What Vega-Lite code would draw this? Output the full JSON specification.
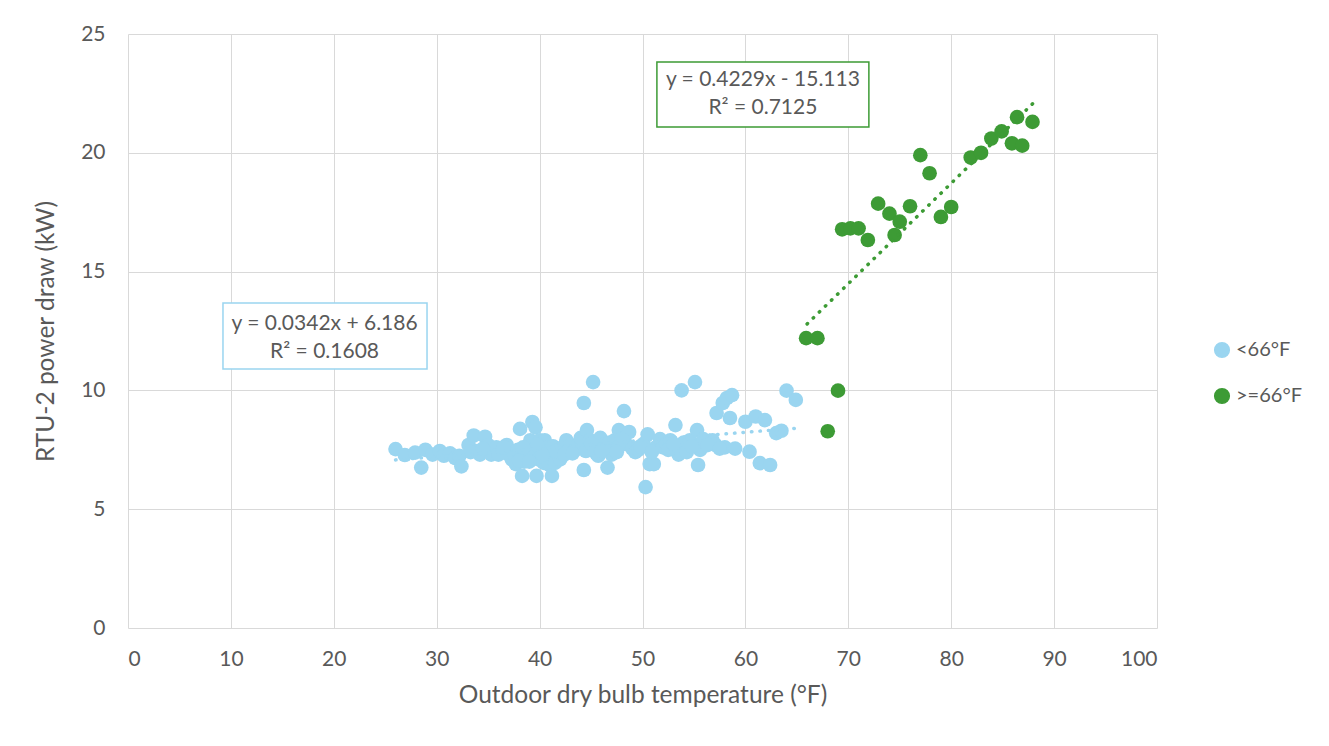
{
  "$schema": "https://vega.github.io/schema/vega-lite/v6.json",
  "autosize": "none",
  "width": 1029,
  "height": 594,
  "padding": {"left": 128, "top": 34, "right": 172, "bottom": 118},
  "background": "white",
  "config": {
    "font": "Lato",
    "view": {"stroke": null},
    "axis": {
      "gridColor": "#d9d9d9", "gridWidth": 1, "domain": false, "ticks": false,
      "labelColor": "#595959", "labelFontSize": 21, "titleColor": "#595959",
      "titleFontSize": 24.5, "titleFontWeight": "normal", "labelFont": "Lato", "titleFont": "Lato"
    },
    "legend": {"labelColor": "#595959", "labelFontSize": 20, "labelFont": "Lato"}
  },
  "datasets": {
    "pts": [
      {"t":26.0,"kw":7.53,"g":"<66°F"},{"t":26.9,"kw":7.28,"g":"<66°F"},{"t":27.9,"kw":7.38,"g":"<66°F"},{"t":28.5,"kw":6.75,"g":"<66°F"},
      {"t":28.9,"kw":7.5,"g":"<66°F"},{"t":29.6,"kw":7.3,"g":"<66°F"},{"t":30.3,"kw":7.45,"g":"<66°F"},{"t":30.7,"kw":7.25,"g":"<66°F"},
      {"t":31.3,"kw":7.35,"g":"<66°F"},{"t":31.8,"kw":7.15,"g":"<66°F"},{"t":32.2,"kw":7.25,"g":"<66°F"},{"t":32.4,"kw":6.8,"g":"<66°F"},
      {"t":33.1,"kw":7.7,"g":"<66°F"},{"t":33.6,"kw":8.1,"g":"<66°F"},{"t":33.8,"kw":7.45,"g":"<66°F"},{"t":34.2,"kw":7.3,"g":"<66°F"},
      {"t":34.7,"kw":8.05,"g":"<66°F"},{"t":35.0,"kw":7.7,"g":"<66°F"},{"t":35.3,"kw":7.3,"g":"<66°F"},{"t":35.8,"kw":7.6,"g":"<66°F"},
      {"t":36.3,"kw":7.45,"g":"<66°F"},{"t":36.8,"kw":7.7,"g":"<66°F"},{"t":37.0,"kw":7.3,"g":"<66°F"},{"t":37.3,"kw":7.1,"g":"<66°F"},
      {"t":37.6,"kw":7.25,"g":"<66°F"},{"t":37.7,"kw":6.9,"g":"<66°F"},{"t":37.9,"kw":7.5,"g":"<66°F"},{"t":38.1,"kw":8.38,"g":"<66°F"},
      {"t":38.3,"kw":6.4,"g":"<66°F"},{"t":38.5,"kw":7.0,"g":"<66°F"},{"t":38.7,"kw":7.2,"g":"<66°F"},{"t":38.9,"kw":7.45,"g":"<66°F"},
      {"t":39.1,"kw":7.9,"g":"<66°F"},{"t":39.3,"kw":8.67,"g":"<66°F"},{"t":39.5,"kw":7.3,"g":"<66°F"},{"t":39.6,"kw":8.45,"g":"<66°F"},
      {"t":39.7,"kw":6.4,"g":"<66°F"},{"t":39.9,"kw":7.1,"g":"<66°F"},{"t":40.0,"kw":7.9,"g":"<66°F"},{"t":40.2,"kw":7.5,"g":"<66°F"},
      {"t":40.4,"kw":6.95,"g":"<66°F"},{"t":40.5,"kw":7.9,"g":"<66°F"},{"t":40.7,"kw":7.1,"g":"<66°F"},{"t":40.8,"kw":7.6,"g":"<66°F"},
      {"t":41.0,"kw":6.85,"g":"<66°F"},{"t":41.2,"kw":6.4,"g":"<66°F"},{"t":41.3,"kw":7.65,"g":"<66°F"},{"t":41.5,"kw":6.95,"g":"<66°F"},
      {"t":41.8,"kw":7.3,"g":"<66°F"},{"t":42.0,"kw":7.1,"g":"<66°F"},{"t":42.2,"kw":7.6,"g":"<66°F"},{"t":42.6,"kw":7.9,"g":"<66°F"},
      {"t":42.8,"kw":7.45,"g":"<66°F"},{"t":43.0,"kw":7.7,"g":"<66°F"},{"t":43.5,"kw":7.5,"g":"<66°F"},{"t":43.8,"kw":7.75,"g":"<66°F"},
      {"t":44.0,"kw":8.0,"g":"<66°F"},{"t":44.3,"kw":9.47,"g":"<66°F"},{"t":44.3,"kw":6.65,"g":"<66°F"},{"t":44.6,"kw":8.33,"g":"<66°F"},
      {"t":44.9,"kw":7.9,"g":"<66°F"},{"t":45.2,"kw":10.35,"g":"<66°F"},{"t":45.3,"kw":7.6,"g":"<66°F"},{"t":45.5,"kw":7.35,"g":"<66°F"},
      {"t":45.7,"kw":7.25,"g":"<66°F"},{"t":45.9,"kw":8.0,"g":"<66°F"},{"t":46.1,"kw":7.7,"g":"<66°F"},{"t":46.3,"kw":7.5,"g":"<66°F"},
      {"t":46.6,"kw":6.75,"g":"<66°F"},{"t":46.8,"kw":7.8,"g":"<66°F"},{"t":47.0,"kw":7.3,"g":"<66°F"},{"t":47.3,"kw":7.9,"g":"<66°F"},
      {"t":47.6,"kw":7.6,"g":"<66°F"},{"t":47.7,"kw":8.33,"g":"<66°F"},{"t":47.9,"kw":7.7,"g":"<66°F"},{"t":48.2,"kw":9.13,"g":"<66°F"},
      {"t":48.4,"kw":7.75,"g":"<66°F"},{"t":48.7,"kw":8.25,"g":"<66°F"},{"t":49.0,"kw":7.55,"g":"<66°F"},{"t":49.3,"kw":7.4,"g":"<66°F"},
      {"t":49.6,"kw":7.5,"g":"<66°F"},{"t":50.1,"kw":7.75,"g":"<66°F"},{"t":50.3,"kw":5.93,"g":"<66°F"},{"t":50.5,"kw":8.15,"g":"<66°F"},
      {"t":50.7,"kw":6.9,"g":"<66°F"},{"t":51.1,"kw":6.9,"g":"<66°F"},{"t":51.3,"kw":7.6,"g":"<66°F"},{"t":51.7,"kw":7.95,"g":"<66°F"},
      {"t":52.0,"kw":7.6,"g":"<66°F"},{"t":52.3,"kw":7.75,"g":"<66°F"},{"t":52.7,"kw":7.9,"g":"<66°F"},{"t":53.2,"kw":8.54,"g":"<66°F"},
      {"t":53.5,"kw":7.3,"g":"<66°F"},{"t":53.8,"kw":10.0,"g":"<66°F"},{"t":54.0,"kw":7.8,"g":"<66°F"},{"t":54.3,"kw":7.4,"g":"<66°F"},
      {"t":54.6,"kw":7.9,"g":"<66°F"},{"t":55.1,"kw":10.35,"g":"<66°F"},{"t":55.3,"kw":8.33,"g":"<66°F"},{"t":55.4,"kw":6.86,"g":"<66°F"},
      {"t":55.6,"kw":7.5,"g":"<66°F"},{"t":55.9,"kw":7.95,"g":"<66°F"},{"t":56.8,"kw":7.9,"g":"<66°F"},{"t":57.1,"kw":7.7,"g":"<66°F"},
      {"t":57.2,"kw":9.05,"g":"<66°F"},{"t":57.8,"kw":9.47,"g":"<66°F"},{"t":58.0,"kw":7.6,"g":"<66°F"},{"t":58.2,"kw":9.68,"g":"<66°F"},
      {"t":58.5,"kw":8.84,"g":"<66°F"},{"t":58.7,"kw":9.8,"g":"<66°F"},{"t":59.0,"kw":7.55,"g":"<66°F"},{"t":60.0,"kw":8.68,"g":"<66°F"},
      {"t":60.4,"kw":7.42,"g":"<66°F"},{"t":61.0,"kw":8.9,"g":"<66°F"},{"t":61.4,"kw":6.94,"g":"<66°F"},{"t":61.9,"kw":8.75,"g":"<66°F"},
      {"t":62.4,"kw":6.86,"g":"<66°F"},{"t":63.0,"kw":8.2,"g":"<66°F"},{"t":63.5,"kw":8.3,"g":"<66°F"},{"t":64.0,"kw":9.99,"g":"<66°F"},
      {"t":64.9,"kw":9.6,"g":"<66°F"},
      {"t":33.3,"kw":7.4,"g":"<66°F"},{"t":34.5,"kw":7.55,"g":"<66°F"},{"t":36.0,"kw":7.3,"g":"<66°F"},{"t":36.5,"kw":7.6,"g":"<66°F"},
      {"t":38.0,"kw":7.05,"g":"<66°F"},{"t":38.4,"kw":7.6,"g":"<66°F"},{"t":39.0,"kw":7.0,"g":"<66°F"},{"t":39.8,"kw":7.7,"g":"<66°F"},
      {"t":40.3,"kw":7.3,"g":"<66°F"},{"t":41.6,"kw":7.45,"g":"<66°F"},{"t":42.4,"kw":7.3,"g":"<66°F"},{"t":43.2,"kw":7.35,"g":"<66°F"},
      {"t":44.5,"kw":7.45,"g":"<66°F"},{"t":45.0,"kw":7.75,"g":"<66°F"},{"t":46.0,"kw":7.45,"g":"<66°F"},{"t":47.5,"kw":7.4,"g":"<66°F"},
      {"t":48.0,"kw":7.95,"g":"<66°F"},{"t":49.8,"kw":7.65,"g":"<66°F"},{"t":50.9,"kw":7.4,"g":"<66°F"},{"t":52.5,"kw":7.5,"g":"<66°F"},
      {"t":53.0,"kw":7.75,"g":"<66°F"},{"t":54.8,"kw":7.65,"g":"<66°F"},{"t":56.3,"kw":7.7,"g":"<66°F"},{"t":57.5,"kw":7.55,"g":"<66°F"},
      {"t":65.9,"kw":12.2,"g":">=66°F"},{"t":67.0,"kw":12.2,"g":">=66°F"},{"t":69.0,"kw":9.99,"g":">=66°F"},{"t":68.0,"kw":8.28,"g":">=66°F"},
      {"t":69.4,"kw":16.78,"g":">=66°F"},{"t":70.2,"kw":16.82,"g":">=66°F"},{"t":71.0,"kw":16.82,"g":">=66°F"},{"t":71.9,"kw":16.33,"g":">=66°F"},
      {"t":72.9,"kw":17.86,"g":">=66°F"},{"t":74.0,"kw":17.44,"g":">=66°F"},{"t":75.0,"kw":17.1,"g":">=66°F"},{"t":74.5,"kw":16.54,"g":">=66°F"},
      {"t":76.0,"kw":17.75,"g":">=66°F"},{"t":77.0,"kw":19.9,"g":">=66°F"},{"t":77.9,"kw":19.14,"g":">=66°F"},{"t":79.0,"kw":17.3,"g":">=66°F"},
      {"t":80.0,"kw":17.72,"g":">=66°F"},{"t":81.9,"kw":19.8,"g":">=66°F"},{"t":82.9,"kw":20.0,"g":">=66°F"},{"t":83.9,"kw":20.6,"g":">=66°F"},
      {"t":84.9,"kw":20.9,"g":">=66°F"},{"t":85.9,"kw":20.4,"g":">=66°F"},{"t":86.9,"kw":20.3,"g":">=66°F"},{"t":86.4,"kw":21.5,"g":">=66°F"},
      {"t":87.9,"kw":21.3,"g":">=66°F"}
    ],
    "trend": [
      {"t":26.0,"kw":7.075,"g":"<66°F"},{"t":65.0,"kw":8.409,"g":"<66°F"},
      {"t":66.0,"kw":12.798,"g":">=66°F"},{"t":88.0,"kw":22.102,"g":">=66°F"}
    ],
    "one": [{}]
  },
  "layer": [
    {
      "data": {"name": "pts"},
      "mark": {"type": "circle", "size": 215, "opacity": 1},
      "encoding": {
        "x": {"field": "t", "type": "quantitative", "scale": {"domain": [0, 100], "nice": false},
              "axis": {"values": [0,10,20,30,40,50,60,70,80,90,100], "title": "Outdoor dry bulb temperature (°F)", "labelPadding": 20, "titlePadding": 14}},
        "y": {"field": "kw", "type": "quantitative", "scale": {"domain": [0, 25], "nice": false},
              "axis": {"values": [0,5,10,15,20,25], "title": "RTU-2 power draw (kW)", "labelPadding": 23, "titlePadding": 22}},
        "color": {"field": "g", "type": "nominal", "sort": ["<66°F", ">=66°F"],
                  "scale": {"domain": ["<66°F", ">=66°F"], "range": ["#9AD5F0", "#3D9B35"]},
                  "legend": {"title": null, "orient": "none", "legendX": 1084, "legendY": 306, "symbolType": "circle", "symbolSize": 215, "rowPadding": 24, "labelOffset": 4}}
      }
    },
    {
      "data": {"name": "trend"},
      "mark": {"type": "line", "strokeWidth": 3.5, "strokeDash": [0.5, 8], "strokeCap": "round"},
      "encoding": {
        "x": {"field": "t", "type": "quantitative"},
        "y": {"field": "kw", "type": "quantitative"},
        "detail": {"field": "g"},
        "color": {"field": "g", "type": "nominal", "legend": null}
      }
    },
    {
      "data": {"name": "one"},
      "mark": {"type": "rect", "fill": "white", "stroke": "#9AD5F0", "strokeWidth": 1.5},
      "encoding": {"x": {"datum": 9.23}, "x2": {"datum": 29.06}, "y": {"datum": 13.68}, "y2": {"datum": 10.9}}
    },
    {
      "data": {"name": "one"},
      "mark": {"type": "rect", "fill": "white", "stroke": "#3D9B35", "strokeWidth": 1.5},
      "encoding": {"x": {"datum": 51.4}, "x2": {"datum": 72.0}, "y": {"datum": 23.82}, "y2": {"datum": 21.09}}
    },
    {
      "data": {"name": "one"},
      "mark": {"type": "text", "fontSize": 21, "color": "#595959", "align": "center", "baseline": "middle", "font": "Lato"},
      "encoding": {"x": {"datum": 19.1}, "y": {"datum": 12.79}, "text": {"value": "y = 0.0342x + 6.186"}}
    },
    {
      "data": {"name": "one"},
      "mark": {"type": "text", "fontSize": 21, "color": "#595959", "align": "center", "baseline": "middle", "font": "Lato"},
      "encoding": {"x": {"datum": 19.1}, "y": {"datum": 11.62}, "text": {"value": "R² = 0.1608"}}
    },
    {
      "data": {"name": "one"},
      "mark": {"type": "text", "fontSize": 21, "color": "#595959", "align": "center", "baseline": "middle", "font": "Lato"},
      "encoding": {"x": {"datum": 61.7}, "y": {"datum": 23.06}, "text": {"value": "y = 0.4229x - 15.113"}}
    },
    {
      "data": {"name": "one"},
      "mark": {"type": "text", "fontSize": 21, "color": "#595959", "align": "center", "baseline": "middle", "font": "Lato"},
      "encoding": {"x": {"datum": 61.7}, "y": {"datum": 21.89}, "text": {"value": "R² = 0.7125"}}
    }
  ]
}
